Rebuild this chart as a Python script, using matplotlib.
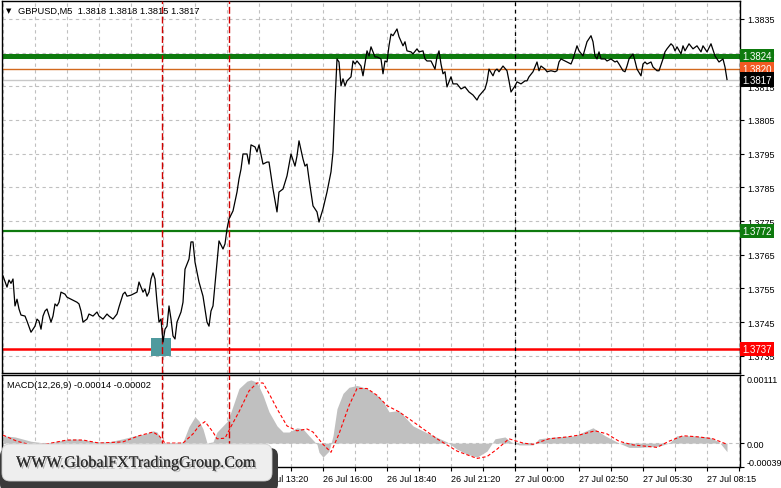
import matplotlib
matplotlib.use("Agg")
import matplotlib.pyplot as plt
import matplotlib.patheffects as pe
from matplotlib.patches import Rectangle, FancyBboxPatch

# GBPUSD M5 close (bar index, price)
price_idx = [0, 2, 3, 4, 5, 6, 7, 8, 9, 11, 12, 14, 16, 17, 18, 19, 20, 21, 22, 24,
             25, 26, 27, 28, 29, 31, 32, 34, 37, 38, 39, 40, 42, 43, 45, 47, 48, 50, 52, 53,
             55, 57, 58, 60, 61, 62, 64, 67, 68, 70, 71, 72, 73, 74, 75, 76, 77, 78, 79, 80,
             81, 82, 83, 84, 85, 86, 87, 89, 90, 91, 93, 94, 95, 96, 98, 100, 102, 103, 104, 105,
             107, 108, 110, 111, 112, 113, 115, 117, 118, 119, 120, 122, 123, 124, 126, 127, 128, 130, 132, 133,
             135, 137, 138, 140, 142, 144, 146, 147, 148, 150, 151, 152, 153, 155, 157, 158, 160, 162, 164, 165,
             166, 167, 168, 169, 170, 171, 172, 174, 175, 176, 177, 179, 180, 182, 183, 184, 186, 187, 189, 190,
             191, 192, 193, 194, 195, 197, 198, 200, 201, 202, 204, 205, 207, 208, 210, 211, 212, 214, 216, 217,
             218, 219, 220, 221, 222, 224, 225, 227, 229, 231, 233, 235, 237, 238, 241, 242, 243, 245, 246, 247,
             248, 250, 252, 253, 254, 256, 257, 259, 261, 262, 263, 265, 267, 268, 269, 271, 272, 274, 276, 277,
             278, 279, 281, 282, 284, 285, 287, 288, 290, 291, 292, 294, 295, 296, 297, 298, 299, 301, 302, 304,
             306, 307, 308, 310, 311, 312, 313, 315, 316, 317, 319, 320, 321, 322, 324, 325, 327, 328, 330, 331,
             332, 334, 335, 336, 337, 339, 340, 341, 343, 345, 347, 349, 350, 351, 352, 354, 356, 357, 358, 360, 361, 362]
price_val = [1.37587, 1.37554, 1.37575, 1.37565, 1.37578, 1.37498, 1.37518, 1.37489, 1.37471, 1.37468,
             1.37453, 1.37420, 1.37438, 1.37459, 1.37453, 1.37429, 1.37468, 1.37483, 1.37489, 1.37450,
             1.37468, 1.37504, 1.37498, 1.37509, 1.37539, 1.37533, 1.37524, 1.37518, 1.37509, 1.37504,
             1.37483, 1.37450, 1.37459, 1.37474, 1.37468, 1.37480, 1.37468, 1.37459, 1.37474, 1.37468,
             1.37459, 1.37474, 1.37495, 1.37533, 1.37539, 1.37527, 1.37530, 1.37539, 1.37569, 1.37539,
             1.37548, 1.37527, 1.37539, 1.37578, 1.37596, 1.37578, 1.37509, 1.37450, 1.37459, 1.37391,
             1.37429, 1.37438, 1.37498, 1.37459, 1.37409, 1.37400, 1.37450, 1.37480, 1.37509, 1.37607,
             1.37637, 1.37688, 1.37688, 1.37628, 1.37569, 1.37527, 1.37450, 1.37438, 1.37483, 1.37498,
             1.37628, 1.37691, 1.37667, 1.37682, 1.37726, 1.37756, 1.37780, 1.37836, 1.37875, 1.37904,
             1.37949, 1.37949, 1.37919, 1.37976, 1.37970, 1.37955, 1.37976, 1.37919, 1.37925, 1.37925,
             1.37845, 1.37777, 1.37836, 1.37845, 1.37884, 1.37949, 1.37913, 1.37943, 1.37988, 1.37934,
             1.37913, 1.37919, 1.37875, 1.37795, 1.37777, 1.37747, 1.37786, 1.37836, 1.37896, 1.37955,
             1.38103, 1.38231, 1.38222, 1.38151, 1.38172, 1.38151, 1.38166, 1.38178, 1.38225, 1.38216,
             1.38225, 1.38210, 1.38181, 1.38255, 1.38240, 1.38267, 1.38237, 1.38237, 1.38231, 1.38187,
             1.38225, 1.38222, 1.38270, 1.38305, 1.38300, 1.38320, 1.38297, 1.38270, 1.38282, 1.38255,
             1.38252, 1.38246, 1.38261, 1.38252, 1.38255, 1.38231, 1.38225, 1.38225, 1.38201, 1.38237,
             1.38255, 1.38216, 1.38187, 1.38193, 1.38148, 1.38178, 1.38157, 1.38157, 1.38142, 1.38148,
             1.38133, 1.38124, 1.38109, 1.38121, 1.38142, 1.38163, 1.38201, 1.38181, 1.38196, 1.38201,
             1.38193, 1.38210, 1.38196, 1.38166, 1.38133, 1.38151, 1.38163, 1.38157, 1.38166, 1.38166,
             1.38178, 1.38193, 1.38222, 1.38196, 1.38210, 1.38201, 1.38193, 1.38196, 1.38193, 1.38196,
             1.38222, 1.38231, 1.38225, 1.38222, 1.38216, 1.38231, 1.38270, 1.38255, 1.38240, 1.38261,
             1.38282, 1.38300, 1.38282, 1.38240, 1.38231, 1.38252, 1.38231, 1.38231, 1.38225, 1.38231,
             1.38222, 1.38225, 1.38216, 1.38196, 1.38193, 1.38210, 1.38231, 1.38246, 1.38225, 1.38201,
             1.38181, 1.38216, 1.38222, 1.38216, 1.38222, 1.38207, 1.38196, 1.38196, 1.38231, 1.38252,
             1.38261, 1.38276, 1.38270, 1.38255, 1.38267, 1.38246, 1.38270, 1.38255, 1.38276, 1.38261,
             1.38270, 1.38252, 1.38270, 1.38261, 1.38252, 1.38276, 1.38240, 1.38231, 1.38222, 1.38231,
             1.38207, 1.38170]

# MACD(12,26,9) main (histogram) and signal
hist_idx = [0, 6, 14, 21, 26, 30, 36, 41, 46, 53, 60, 66, 71, 75, 77, 80, 86, 90, 93, 96,
            98, 100, 102, 105, 107, 112, 114, 118, 122, 124, 127, 130, 133, 137, 140, 143, 147, 150, 153, 157,
            158, 160, 163, 165, 167, 170, 173, 177, 182, 187, 190, 193, 198, 205, 213, 222, 227, 232, 237, 242,
            246, 251, 254, 258, 265, 268, 276, 286, 295, 301, 308, 313, 318, 328, 333, 337, 343, 353, 358, 362]
hist_val = [0.00012, 0.00010, 0.00003, 0.0, 0.00002, 0.00005, 0.00007, 0.00005, 0.00002, 0.00002,
            0.00007, 0.00012, 0.00015, 0.00020, 0.00018, 0.0, 0.0, 0.00002, 0.00027, 0.00043,
            0.00036, 0.00023, 0.0, 0.00002, 0.00018, 0.00035, 0.00051, 0.00089, 0.00101, 0.00103,
            0.00099, 0.00078, 0.00051, 0.00028, 0.00018, 0.00018, 0.00025, 0.00023, 0.00012, -0.00002,
            -0.00015, -0.00023, -0.00013, 0.00012, 0.00056, 0.00081, 0.00091, 0.00094, 0.00089, 0.00078,
            0.00068, 0.00051, 0.00053, 0.00028, 0.00015, 0.00002, -0.00010, -0.00018, -0.00023, -0.00013,
            0.00007, 0.00010, 0.00002, -0.00003, -0.00003, 0.00007, 0.00010, 0.00012, 0.00025, 0.00012,
            0.0, -0.00007, -0.00007, -0.00005, 0.0, 0.00012, 0.00012, 0.00010, 0.00002, -0.00014]
sig_idx = [0, 7, 14, 21, 32, 40, 48, 60, 68, 75, 78, 81, 90, 95, 98, 101, 105, 107, 111, 114,
           118, 123, 127, 130, 133, 137, 142, 147, 152, 155, 160, 164, 168, 173, 177, 182, 187, 192, 198, 205,
           217, 227, 237, 242, 247, 253, 260, 265, 273, 282, 288, 296, 302, 308, 315, 327, 333, 340, 348, 355, 362]
sig_val = [0.00013, 0.00003, -0.00003, -0.00002, 0.00005, 0.00005, 0.0, 0.00002, 0.00012, 0.00018,
           0.00012, 0.0, 0.0, 0.00015, 0.00028, 0.00035, 0.00018, 0.00007, 0.00008, 0.00027,
           0.00051, 0.00085, 0.00098, 0.00098, 0.00081, 0.00056, 0.00028, 0.00020, 0.00023, 0.00018,
           -0.00002, -0.00015, 0.00015, 0.00061, 0.00089, 0.00089, 0.00078, 0.00061, 0.00051, 0.00035,
           0.00007, -0.00013, -0.00025, -0.00022, -0.00010, 0.00007, 0.0, -0.00002, 0.00007, 0.00010,
           0.00013, 0.00020, 0.00015, 0.00003, -0.00003, -0.00007, 0.00003, 0.00012, 0.00010, 0.00007,
           -0.00002]

# horizontal levels: value, line colour, label colour, width
levels = [1.3824, 1.3820, 1.3817, 1.3772, 1.3737]
level_colors = ["#0e7a0e", "#d2691e", "#c8c8c8", "#0e7a0e", "#ff0000"]
label_colors = ["#0e7a0e", "#f25a22", "#000000", "#0e7a0e", "#ff0000"]
level_widths = [3.6, 1.0, 1.0, 1.6, 1.8]

price_ticks = [1.3735, 1.3745, 1.3755, 1.3765, 1.3775, 1.3785, 1.3795, 1.3805, 1.3815, 1.3825, 1.3835]
macd_ticks = [-0.00039, 0.0, 0.00111]
macd_ticklabels = ["-0.00039", "0.00", "0.00111"]
time_idx = [128, 160, 192, 224, 256, 288, 320, 352]
time_labels = ["26 Jul 13:20", "26 Jul 16:00", "26 Jul 18:40", "26 Jul 21:20",
               "27 Jul 00:00", "27 Jul 02:50", "27 Jul 05:30", "27 Jul 08:15"]
grid_idx = list(range(0, 369, 16))
red_marks = [79.5, 113]
day_sep = 256
box_x = (74, 84)
box_y = (1.37349, 1.37403)

plt.rcParams["font.family"] = ["Liberation Sans", "DejaVu Sans"]
W, H = 781, 489


def rect(l, t, r, b):
    return [l / W, 1 - b / H, (r - l) / W, (b - t) / H]


fig = plt.figure(figsize=(W / 100, H / 100), dpi=100)
ax = fig.add_axes(rect(2, 2, 740, 374))
ax2 = fig.add_axes(rect(2, 376, 740, 468))
gridc = "#c0c0c0"
dash = (0, (3, 3))

# ---- price panel
ax.set_xlim(-0.5, 368.5)
ax.set_ylim(1.37299, 1.38403)
ax.set_axisbelow(True)
ax.set_xticks(grid_idx)
ax.tick_params(axis="x", length=0, labelbottom=False)
ax.yaxis.tick_right()
ax.set_yticks(price_ticks)
ax.set_yticklabels([f"{v:.4f}" for v in price_ticks])
ax.tick_params(axis="y", length=3, width=0.8, labelsize=6.5, pad=2)
ax.grid(True, color=gridc, ls=dash, lw=0.8)

for lv, lc, bc, lw in zip(levels, level_colors, label_colors, level_widths):
    ax.axhline(lv, color=lc, lw=lw, zorder=2)
    ax.text(1.003, lv, f"{lv:.4f}", transform=ax.get_yaxis_transform(), ha="left", va="center",
            fontsize=7, color="white", zorder=6, clip_on=False,
            bbox=dict(boxstyle="square,pad=0.22", fc=bc, ec="none"))

ax.add_patch(Rectangle((box_x[0], box_y[0]), box_x[1] - box_x[0], box_y[1] - box_y[0],
                       fc="#4f9a9e", ec="none", zorder=2.5))
ax.plot(price_idx, price_val, color="black", lw=0.9, zorder=3)

ax.text(0.0215, 0.976, "GBPUSD,M5  1.3818 1.3818 1.3815 1.3817", transform=ax.transAxes,
        fontsize=6.7, ha="left", va="center")
ax.text(0.009, 0.976, "▼", transform=ax.transAxes, fontsize=5, ha="center", va="center",
        family="DejaVu Sans")

# ---- MACD panel
ax2.set_xlim(-0.5, 368.5)
ax2.set_ylim(-0.00039, 0.00111)
ax2.set_axisbelow(True)
ax2.set_xticks(grid_idx)
ax2.set_xticklabels([time_labels[time_idx.index(g)] if g in time_idx else "" for g in grid_idx])
ax2.tick_params(axis="x", length=3, width=0.8, labelsize=6.5, pad=2)
for lbl in ax2.get_xticklabels():
    lbl.set_ha("left")
ax2.yaxis.tick_right()
ax2.set_yticks(macd_ticks)
ax2.set_yticklabels(macd_ticklabels)
ax2.tick_params(axis="y", length=3, width=0.8, labelsize=6.5, pad=2)
ylbls = ax2.get_yticklabels()
ylbls[0].set_va("bottom")
ylbls[2].set_va("top")
ax2.grid(True, axis="x", color=gridc, ls=dash, lw=0.8)
ax2.axhline(0, color=gridc, ls=dash, lw=0.8, zorder=0.6)
ax2.fill_between(hist_idx, 0, hist_val, color="#c0c0c0", lw=0, zorder=2)
ax2.plot(sig_idx, sig_val, color="#ff0000", ls=(0, (3, 2)), lw=0.8, zorder=3)
ax2.text(0.007, 0.90, "MACD(12,26,9) -0.00014 -0.00002", transform=ax2.transAxes,
         fontsize=6.7, ha="left", va="center")

for a in (ax, ax2):
    for x in red_marks:
        a.axvline(x, color="#d00000", ls=(0, (5, 2)), lw=1.0, zorder=2.8)
    a.axvline(day_sep, color="black", ls=(0, (3, 3)), lw=0.9, zorder=2.8)
    for s in a.spines.values():
        s.set_color("black")
        s.set_linewidth(1.0)

# ---- watermark
axw = fig.add_axes([0, 0, 1, 1], zorder=10)
axw.set_xlim(0, W)
axw.set_ylim(H, 0)
axw.axis("off")
axw.patch.set_alpha(0)
axw.add_patch(FancyBboxPatch((0, 449), 278, 44, boxstyle="round,pad=0,rounding_size=8",
                             fc="#3a3a3a", ec="none"))
axw.add_patch(FancyBboxPatch((2, 445), 270, 37, boxstyle="round,pad=0,rounding_size=8",
                             fc="#eeeeee", ec="#cfcfcf", lw=0.6))
axw.text(136, 464, "WWW.GlobalFXTradingGroup.Com", family="Liberation Serif", fontsize=11.6,
         color="#2e2e2e", ha="center", va="center",
         path_effects=[pe.withSimplePatchShadow(offset=(1.2, -1.2), shadow_rgbFace="#777777", alpha=0.5),
                       pe.Normal()])

fig.savefig("out.png", dpi=100)
